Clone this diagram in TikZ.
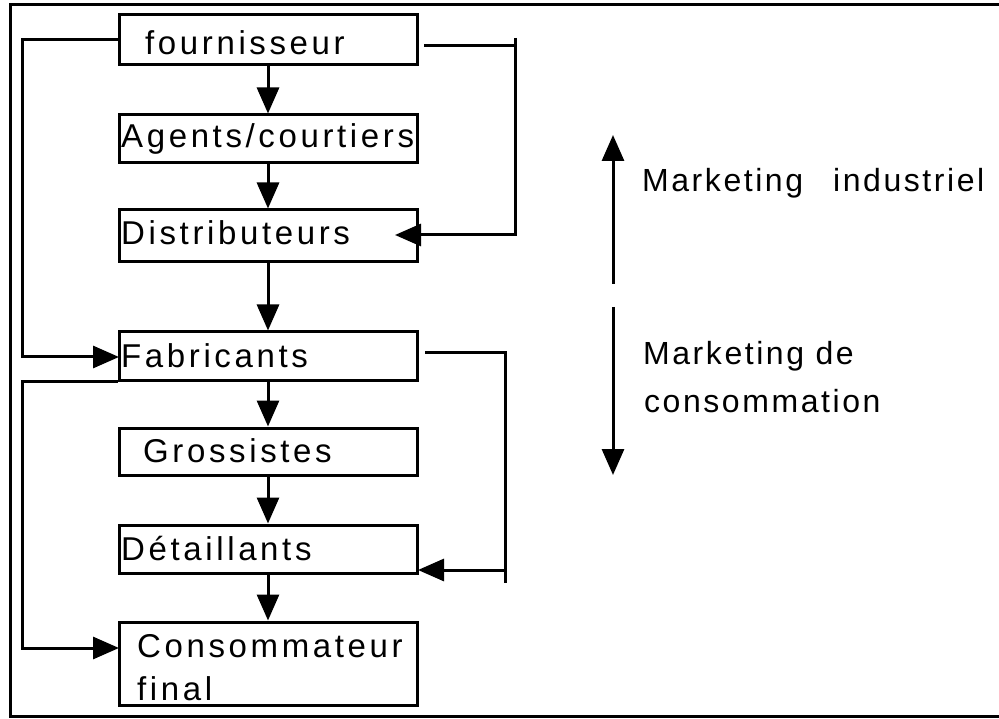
\documentclass[tikz,border=0pt]{standalone}
\usepackage{fontspec}
\setmainfont{Liberation Sans}[LetterSpace=11]
\newfontfamily\sidefont{Liberation Sans}[LetterSpace=8]
\usetikzlibrary{arrows.meta}
\begin{document}
\begin{tikzpicture}[x=1pt,y=-1pt,
  box/.style={draw,line width=3pt,minimum width=298pt,inner sep=0pt},
  txt/.style={anchor=base west,inner sep=0pt,font=\fontsize{33}{40}\selectfont},
  sidetxt/.style={anchor=base west,inner sep=0pt,font=\sidefont\fontsize{32}{40}\selectfont},
  conn/.style={line width=3pt},
  arr/.style={conn,-{Triangle[length=26pt,width=22pt]}}]
\useasboundingbox (0,0) rectangle (999,719);
\draw[line width=3pt] (999,5) -- (10,5) -- (10,716) -- (999,716);
% boxes
\node[box,minimum height=50pt] (f) at (268,40) {};
\node[box,minimum height=48pt] (a) at (268,139) {};
\node[box,minimum height=52pt] (d) at (268,236) {};
\node[box,minimum height=48pt] (fab) at (268,356) {};
\node[box,minimum height=47pt] (g) at (268,451.5) {};
\node[box,minimum height=48pt] (det) at (268,549) {};
\node[box,minimum height=83pt] (c) at (268,663.5) {};
% texts
\node[txt] (ft) at (145,55) {fournisseur};
\node[txt] (at) at (121,148) {Agents/courtiers};
\node[txt] (dt) at (121,245) {Distributeurs};
\node[txt] (fabt) at (121,367) {Fabricants};
\node[txt] (gt) at (143,462) {Grossistes};
\node[txt] (dett) at (121,560) {Détaillants};
\node[txt] (ct) at (137,657) {Consommateur};
\node[txt] (ct2) at (137,700) {final};
% vertical flow
\draw[arr] (f) -- (a);
\draw[arr] (a) -- (d);
\draw[arr] (d) -- (fab);
\draw[arr] (fab) -- (g);
\draw[arr] (g) -- (det);
\draw[arr] (det) -- (c);
% left loops
\coordinate (lx) at (22,0);
\coordinate (fabin) at (119,357);
\coordinate (cin) at (119,648);
\draw[arr] (f.west) -- (f.west -| lx) |- (fabin);
\draw[arr] (fab.south west) -- (fab.south west -| lx) |- (cin);
% right loop 1
\coordinate (r1s) at (424,46);
\coordinate (r1e) at (515,46);
\coordinate (r1t) at (515,38);
\coordinate (r1b) at (515,235);
\coordinate (dtip) at (395,235);
\draw[conn] (r1s) -- (r1e);
\draw[arr] (r1t) -- (r1b) -- (dtip);
% right loop 2
\coordinate (r2s) at (425,353);
\coordinate (r2e) at (505,353);
\coordinate (r2b) at (505,583);
\coordinate (r2a) at (505,570);
\coordinate (dettip) at (418,570);
\draw[conn] (r2s) -- (r2e) -- (r2b);
\draw[arr] (r2a) -- (dettip);
% right side
\coordinate (u1) at (613,284);
\coordinate (u2) at (613,135);
\draw[arr] (u1) -- (u2);
\coordinate (d1) at (613,307);
\coordinate (d2) at (613,475);
\draw[arr] (d1) -- (d2);
\node[sidetxt] (mi) at (642,192) {Marketing\hspace{30pt}industriel};
\node[sidetxt] (mc1) at (643,365) {Marketing de};
\node[sidetxt] (mc2) at (644,412) {consommation};
\end{tikzpicture}
\end{document}
